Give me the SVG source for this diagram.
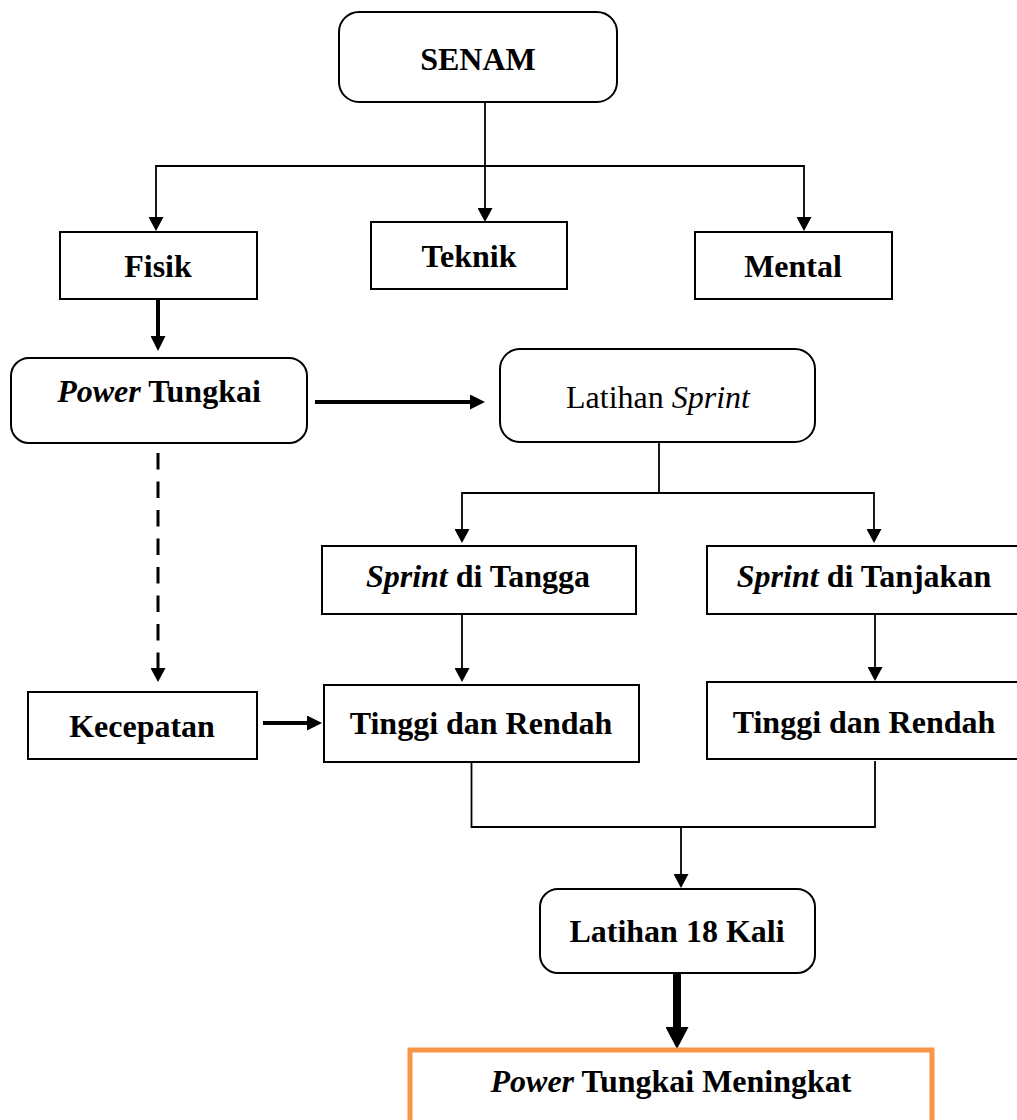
<svg xmlns="http://www.w3.org/2000/svg" width="1017" height="1120" viewBox="0 0 1017 1120">
<style>
.box{fill:#fff;stroke:#000;stroke-width:2}
.out{fill:#fff;stroke:#F79646;stroke-width:5}
.t{font-family:"Liberation Serif","Times New Roman",serif;font-size:32px;font-weight:bold;text-anchor:middle;fill:#000}
.r{font-weight:normal}
.i{font-style:italic}
.ln{fill:none;stroke:#000;stroke-width:1.8}
.th{fill:none;stroke:#000;stroke-width:4}
.hv{fill:none;stroke:#000;stroke-width:8}
.ds{fill:none;stroke:#000;stroke-width:3;stroke-dasharray:16.5 12}
</style>
<defs>
<marker id="a" markerUnits="userSpaceOnUse" markerWidth="14" markerHeight="15" refX="0" refY="7.5" orient="auto" viewBox="0 0 14 15"><path d="M0,0 L14,7.5 L0,15 z" fill="#000"/></marker>
<marker id="b" markerUnits="userSpaceOnUse" markerWidth="15" markerHeight="15" refX="0" refY="7.5" orient="auto" viewBox="0 0 15 15"><path d="M0,0 L15,7.5 L0,15 z" fill="#000"/></marker>
<marker id="c" markerUnits="userSpaceOnUse" markerWidth="22" markerHeight="23" refX="0" refY="11.5" orient="auto" viewBox="0 0 22 23"><path d="M0,0 L22,11.5 L0,23 z" fill="#000"/></marker>
</defs>
<g id="connectors">
<line class="ln" x1="485" y1="102" x2="485" y2="208" marker-end="url(#a)"/>
<line class="ln" x1="156" y1="166" x2="804" y2="166"/>
<line class="ln" x1="156" y1="165" x2="156" y2="217" marker-end="url(#a)"/>
<line class="ln" x1="804" y1="165" x2="804" y2="217" marker-end="url(#a)"/>
<line class="th" x1="158" y1="299" x2="158" y2="336" marker-end="url(#b)"/>
<line class="th" x1="315" y1="402" x2="470" y2="402" marker-end="url(#b)"/>
<line class="ln" x1="659" y1="442" x2="659" y2="493"/>
<line class="ln" x1="462" y1="493" x2="874" y2="493"/>
<line class="ln" x1="462" y1="492" x2="462" y2="529" marker-end="url(#a)"/>
<line class="ln" x1="874" y1="492" x2="874" y2="529" marker-end="url(#a)"/>
<line class="ds" x1="158" y1="453" x2="158" y2="668" marker-end="url(#a)"/>
<line class="th" x1="263" y1="723" x2="307" y2="723" marker-end="url(#b)"/>
<line class="ln" x1="462" y1="614" x2="462" y2="668" marker-end="url(#a)"/>
<line class="ln" x1="875" y1="614" x2="875" y2="667" marker-end="url(#a)"/>
<path class="ln" d="M471.5,762 V827 H875 V761"/>
<line class="ln" x1="681" y1="827" x2="681" y2="874" marker-end="url(#a)"/>
<line class="hv" x1="677" y1="973" x2="677" y2="1027" marker-end="url(#c)"/>
</g>
<g id="senam"><rect class="box" x="339" y="12" width="278" height="90" rx="20"/><text class="t" x="478" y="70">SENAM</text></g>
<g id="fisik"><rect class="box" x="60" y="232" width="197" height="67"/><text class="t" x="158" y="277">Fisik</text></g>
<g id="teknik"><rect class="box" x="371" y="222" width="196" height="67"/><text class="t" x="469" y="267">Teknik</text></g>
<g id="mental"><rect class="box" x="695" y="232" width="197" height="67"/><text class="t" x="793" y="277">Mental</text></g>
<g id="power-tungkai"><rect class="box" x="11" y="358" width="296" height="85" rx="18"/><text class="t" x="159" y="402"><tspan class="i">Power</tspan> Tungkai</text></g>
<g id="latihan-sprint"><rect class="box" x="500" y="349" width="315" height="93" rx="20"/><text class="t r" x="658" y="408">Latihan <tspan class="i">Sprint</tspan></text></g>
<g id="sprint-tangga"><rect class="box" x="322" y="546" width="314" height="68"/><text class="t" x="478" y="587"><tspan class="i">Sprint</tspan> di Tangga</text></g>
<g id="sprint-tanjakan"><rect class="box" x="707" y="546" width="320" height="68"/><text class="t" x="864" y="587"><tspan class="i">Sprint</tspan> di Tanjakan</text></g>
<g id="kecepatan"><rect class="box" x="28" y="692" width="229" height="67"/><text class="t" x="142" y="737">Kecepatan</text></g>
<g id="tinggi-rendah-1"><rect class="box" x="324" y="685" width="315" height="77"/><text class="t" x="481" y="734">Tinggi dan Rendah</text></g>
<g id="tinggi-rendah-2"><rect class="box" x="707" y="682" width="320" height="77"/><text class="t" x="864" y="733">Tinggi dan Rendah</text></g>
<g id="latihan-18"><rect class="box" x="540" y="889" width="275" height="84" rx="18"/><text class="t" x="677" y="942">Latihan 18 Kali</text></g>
<g id="power-meningkat"><rect class="out" x="410" y="1050" width="522" height="100"/><text class="t" x="671" y="1092"><tspan class="i">Power</tspan> Tungkai Meningkat</text></g>
</svg>
